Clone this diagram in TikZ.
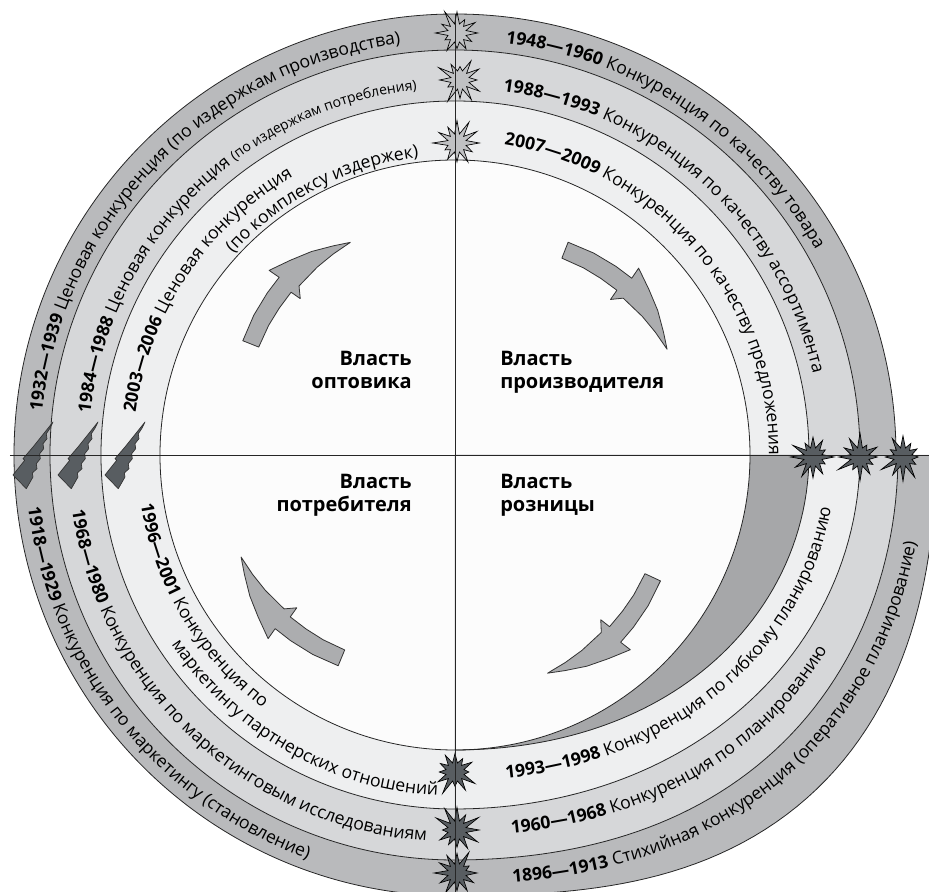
\documentclass[tikz,border=0pt]{standalone}
\usepackage{fontspec}
\setmainfont{Open Sans}
\usepackage{xcolor}
\usepackage{tikz}
\usetikzlibrary{shapes.symbols,decorations.text}

\definecolor{ringA}{RGB}{185,186,188}
\definecolor{ringB}{RGB}{214,215,217}
\definecolor{ringC}{RGB}{238,239,240}
\definecolor{core}{RGB}{252,252,252}
\definecolor{wedge}{RGB}{166,167,169}
\definecolor{burstlight}{RGB}{192,193,195}
\definecolor{burstdark}{RGB}{88,93,97}
\definecolor{arrowgray}{RGB}{172,173,175}

\newcommand{\ringfont}{\fontsize{13.2}{16}\selectfont}
\newcommand{\smallring}{\fontsize{10.5}{12}\selectfont}

\begin{document}
\begin{tikzpicture}[x=0.75pt,y=0.75pt,
  ringline/.style={draw=black!85, line width=0.6pt},
  ringtext/.style={decorate, decoration={text along path, text align=left}},
  arrowbody/.style={fill=arrowgray, draw=black!80, line width=0.6pt, line join=round},
  spikefill/.style={fill=burstdark, draw=black!80, line width=0.5pt, line join=round},
  burstnode/.style={starburst, starburst points=12, starburst point height=12pt, minimum width=38pt, minimum height=38pt, inner sep=0pt, draw=black, line width=0.5pt},
  powerlabel/.style={font=\bfseries\fontsize{15}{17.3}\selectfont, inner sep=0pt},
  turnarrow/.pic={
    \draw[arrowbody] (17.5:241) -- (11:245) -- (5:248) -- (0.5:250) -- (1:262) -- (-4:255) -- (-9:249) -- (-14:242) -- (-18:237)
      -- (-13:235) -- (-8:233) -- (-1.5:230) -- (0.5:220) -- (1:231) -- (6:229) -- (11:227) -- (17:224) -- cycle;
  },
  spike/.pic={
    \draw[spikefill] (0,0) -- (-3.3,-6.7) -- (-6.7,-11.7) -- (-6,-16.7) -- (-10,-21.7) -- (-9.3,-26.7) -- (-13.3,-31.7) -- (-12.7,-36.7)
      -- (-16.7,-41.7) -- (-16,-46.7) -- (-20.7,-51) -- (-20,-55) -- (-26.7,-66.7) -- (-40,-53) -- (-28.3,-38.3) -- (-30,-36.7) -- (-20,-25) -- cycle;
  }]
\useasboundingbox (-455,-437) rectangle (474,455);
\clip (-455,-437) rectangle (474,455);

%Shape: concentric rings
\fill[ringA] (0,0) circle[radius=441];
\fill[ringB] (0,0) circle[radius=405];
\fill[ringC] (0,0) circle[radius=354];
\fill[core] (0,0) circle[radius=295];

%Shape: spiral rings, lower right quarter
\fill[ringA] (0,0) -- plot[domain=-90:0, samples=60, variable=\t] ({\t}:{441+40*cos(\t)*cos(\t)+30*sin(2*\t)*sin(2*\t)}) -- cycle;
\fill[ringB] (0,0) -- plot[domain=-90:0, samples=60, variable=\t] ({\t}:{405+38*cos(\t)*cos(\t)+10*sin(2*\t)*sin(2*\t)}) -- cycle;
\fill[ringC] (0,0) -- plot[domain=-90:0, samples=60, variable=\t] ({\t}:{354+51*cos(\t)*cos(\t)}) -- cycle;
\fill[wedge] (0,0) -- plot[domain=-90:0, samples=60, variable=\t] ({\t}:{295+59*cos(\t)*cos(\t)}) -- cycle;
\fill[core] (0,0) -- (-90:295) arc[start angle=-90, end angle=0, radius=295] -- cycle;

%Lines: ring borders
\draw[ringline] (0,0) circle[radius=295];
\draw[ringline] (0:354) arc[start angle=0, end angle=270, radius=354];
\draw[ringline] (0:405) arc[start angle=0, end angle=270, radius=405];
\draw[ringline] (0:441) arc[start angle=0, end angle=270, radius=441];
\draw[ringline] plot[domain=-90:0, samples=60, variable=\t] ({\t}:{295+59*cos(\t)*cos(\t)});
\draw[ringline] plot[domain=-90:0, samples=60, variable=\t] ({\t}:{354+51*cos(\t)*cos(\t)});
\draw[ringline] plot[domain=-90:0, samples=60, variable=\t] ({\t}:{405+38*cos(\t)*cos(\t)+10*sin(2*\t)*sin(2*\t)});
\draw[ringline] plot[domain=-90:0, samples=60, variable=\t] ({\t}:{441+40*cos(\t)*cos(\t)+30*sin(2*\t)*sin(2*\t)});

%Shape: turning arrows
\pic[rotate=134.2] at (0,0) {turnarrow};
\pic[rotate=44.5] at (0,0) {turnarrow};
\pic[rotate=-49] at (0,0) {turnarrow};
\pic[rotate=-136.5] at (0,0) {turnarrow};

%Shape: bursts on the joints
\node[burstnode, fill=burstlight, random starburst=11] (topA) at (2,422) {};
\node[burstnode, fill=burstlight, random starburst=23] (topB) at (5,375) {};
\node[burstnode, fill=burstlight, random starburst=37] (topC) at (2,312) {};
\node[burstnode, fill=burstdark, random starburst=41] (rightA) at (358,-2) {};
\node[burstnode, fill=burstdark, random starburst=53] (rightB) at (405,-2) {};
\node[burstnode, fill=burstdark, random starburst=67] (rightC) at (448,-2) {};
\node[burstnode, fill=burstdark, random starburst=71] (bottomA) at (0,-317) {};
\node[burstnode, fill=burstdark, random starburst=83] (bottomB) at (2,-375) {};
\node[burstnode, fill=burstdark, random starburst=97] (bottomC) at (2,-418) {};

%Shape: spikes on the left joint
\pic at (-402,33) {spike};
\pic at (-357,33) {spike};
\pic at (-310,33) {spike};

%Straight Lines: axes
\draw[ringline] (-445,0) -- (474,0);
\draw[ringline] (0,441) -- (0,-437);

% Text Node
\node[powerlabel, align=right, anchor=base east] (wholesale) at (-43,66) {Власть\\оптовика};
% Text Node
\node[powerlabel, align=left, anchor=base west] (producer) at (45,66) {Власть\\производителя};
% Text Node
\node[powerlabel, align=right, anchor=base east] (consumer) at (-43,-57) {Власть\\потребителя};
% Text Node
\node[powerlabel, align=left, anchor=base west] (retail) at (45,-57) {Власть\\розницы};

%Text on rings, upper left
\path[ringtext, decoration={text={|\ringfont\bfseries|1932—1939 |\ringfont|Ценовая конкуренция (по издержкам производства)}}]
  (174:415) arc[start angle=174, end angle=80, radius=415];
\path[ringtext, decoration={text={|\ringfont\bfseries|1984—1988 |\ringfont|Ценовая конкуренция |\smallring|(по издержкам потребления)}}]
  (173.5:367) arc[start angle=173.5, end angle=80, radius=367];
\path[ringtext, decoration={text={|\ringfont\bfseries|2003—2006 |\ringfont|Ценовая конкуренция}}]
  (172.5:322) arc[start angle=172.5, end angle=90, radius=322];
\path[ringtext, decoration={text={|\ringfont|(по комплексу издержек)}}]
  (137.7:300) arc[start angle=137.7, end angle=80, radius=300];

%Text on rings, upper right
\path[ringtext, decoration={text={|\ringfont\bfseries|1948—1960 |\ringfont|Конкуренция по качеству товара}}]
  (83:415) arc[start angle=83, end angle=-5, radius=415];
\path[ringtext, decoration={text={|\ringfont\bfseries|1988—1993 |\ringfont|Конкуренция по качеству ассортимента}}]
  (82.5:367) arc[start angle=82.5, end angle=-5, radius=367];
\path[ringtext, decoration={text={|\ringfont\bfseries|2007—2009 |\ringfont|Конкуренция по качеству предложения}}]
  (81:314) arc[start angle=81, end angle=-5, radius=314];

%Text on rings, lower left
\path[ringtext, decoration={text={|\ringfont\bfseries|1918—1929 |\ringfont|Конкуренция по маркетингу (становление)}}]
  (187:430) arc[start angle=187, end angle=275, radius=430];
\path[ringtext, decoration={text={|\ringfont\bfseries|1968—1980 |\ringfont|Конкуренция по маркетинговым исследованиям}}]
  (188.3:387) arc[start angle=188.3, end angle=280, radius=387];
\path[ringtext, decoration={text={|\ringfont\bfseries|1996—2001 |\ringfont|Конкуренция по}}]
  (189:318) arc[start angle=189, end angle=270, radius=318];
\path[ringtext, decoration={text={|\ringfont|маркетингу партнерских отношений}}]
  (213.7:341) arc[start angle=213.7, end angle=280, radius=341];

%Text on rings, lower right
\path[ringtext, decoration={text={|\ringfont\bfseries|1896—1913 |\ringfont|Стихийная конкуренция (оперативное планирование)}}]
  plot[domain=-82.3:0, samples=45, variable=\t] ({\t}:{430+39*cos(\t)*cos(\t)+12*sin(2*\t)*sin(2*\t)});
\path[ringtext, decoration={text={|\ringfont\bfseries|1960—1968 |\ringfont|Конкуренция по планированию}}]
  plot[domain=-81.5:0, samples=45, variable=\t] ({\t}:{381+45*cos(\t)*cos(\t)+6*sin(2*\t)*sin(2*\t)});
\path[ringtext, decoration={text={|\ringfont\bfseries|1993—1998 |\ringfont|Конкуренция по гибкому планированию}}]
  plot[domain=-81:0, samples=45, variable=\t] ({\t}:{326+55*cos(\t)*cos(\t)});

\end{tikzpicture}
\end{document}
